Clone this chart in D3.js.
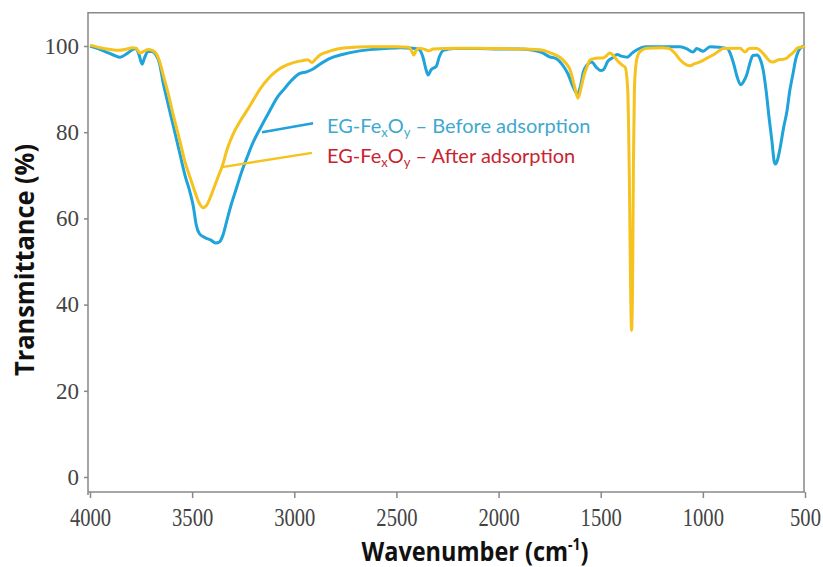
<!DOCTYPE html>
<html>
  <script src="https://cdn.jsdelivr.net/npm/d3@7"></script>
  <style>
    body{ margin: 0; background: #fff; }
    .tick text{ font-family: "Liberation Serif", serif; fill: #444; }
    .tick line{ stroke: #888; stroke-width: 1.5; }
    .frame{ stroke: #888; stroke-width: 1.5; fill: none; }
    .title{ font-family: "Open Sans", sans-serif; font-weight: bold; font-size: 27px; fill: #111; }
    .legend{ font-family: Lato, sans-serif; font-size: 20px; }
  </style>
  <body>
    <script>

// FTIR spectra, [wavenumber, transmittance %]
var before = [
  [4000,100],[3960,99.4],[3920,98.6],[3880,97.8],[3853,97.4],[3820,98.2],[3790,99.2],[3775,99.4],
  [3760,98],[3745,95.8],[3732,97.4],[3715,98.8],[3695,98.7],[3675,97.8],[3660,96],[3640,91],
  [3620,87],[3600,83],[3580,79],[3560,75],[3535,70],[3510,66],[3495,63],[3480,58.5],[3465,56.5],
  [3440,55.6],[3410,55],[3385,54.3],[3365,54.6],[3350,56],[3330,59.5],[3310,63],[3290,66],
  [3260,70.5],[3230,74.3],[3200,77.8],[3160,81.5],[3120,85],[3080,88.3],[3050,90],[3010,92.2],
  [2975,93.6],[2940,94],[2910,94.6],[2880,95.6],[2850,96.5],[2810,97.4],[2760,98.1],[2700,98.7],
  [2640,99.1],[2560,99.4],[2480,99.6],[2420,99.5],[2390,99.2],[2370,97.4],[2355,94.5],[2345,93.3],
  [2330,94.5],[2305,95.3],[2290,97.5],[2270,99],[2220,99.4],[2100,99.4],[2000,99.3],[1900,99.3],
  [1830,99],[1790,98.5],[1750,97.5],[1715,97],[1690,95.8],[1660,93.5],[1635,90.5],[1615,89],
  [1600,90.5],[1585,94],[1568,95.5],[1545,96.3],[1520,95],[1500,94.3],[1485,94.6],[1465,96.5],
  [1440,97.3],[1420,98],[1395,97.6],[1371,97.4],[1345,98.4],[1320,99.2],[1280,99.8],[1200,99.8],
  [1112,99.8],[1080,99.4],[1048,98.6],[1030,99.4],[999,98.8],[965,99.8],[920,99.7],[880,99.4],
  [867,98.4],[850,96],[830,92.5],[815,91],[800,91.8],[784,93.5],[770,96],[755,97.8],[735,97.9],
  [720,97],[705,94.5],[690,89.5],[675,83],[662,78],[650,73],[645,72.6],[635,73.5],[622,76.3],
  [605,81],[588,85],[575,89.5],[559,93.5],[545,97],[534,98.6],[515,99.8],[500,100]
]

var after = [
  [4000,100.2],[3950,99.6],[3900,99.2],[3860,99],[3820,99.3],[3790,99.6],[3775,99.5],[3755,98.4],
  [3735,98.8],[3715,99.2],[3695,99],[3675,98.2],[3660,96.5],[3640,93],[3620,89.5],[3600,85.5],
  [3584,82.4],[3560,78],[3535,73.1],[3510,69.5],[3486,66.1],[3465,63.5],[3447,62.5],[3430,63],
  [3410,65],[3390,67.5],[3370,70],[3350,72.5],[3329,76],[3300,79.5],[3266,82.5],[3232,85],
  [3200,87.5],[3168,90],[3130,92.3],[3100,93.7],[3070,94.8],[3036,95.6],[3000,96.2],[2960,96.6],
  [2935,96.8],[2913,96.2],[2895,97],[2874,97.9],[2840,98.6],[2800,99.2],[2740,99.6],[2640,99.8],
  [2500,99.8],[2440,99.7],[2425,98.8],[2415,97.9],[2405,98.8],[2390,99.5],[2360,99.2],[2340,98.9],
  [2320,99.3],[2200,99.5],[2100,99.5],[2000,99.4],[1900,99.3],[1820,99.2],[1783,99],[1740,98.3],
  [1700,97.4],[1670,96],[1650,94.5],[1630,91],[1611,87.9],[1595,90.5],[1580,93.5],[1568,95],
  [1553,96.7],[1538,97],[1510,97.2],[1489,97.2],[1470,97.8],[1455,98.4],[1440,97.9],[1420,96.7],
  [1396,95.6],[1380,95],[1368,90],[1360,70],[1354,45],[1349,34],[1344,45],[1340,72],[1335,90],
  [1328,95.5],[1318,97.9],[1300,99],[1274,99.5],[1200,99.6],[1170,99.5],[1140,98.5],[1112,96.8],
  [1080,95.6],[1063,95.4],[1040,95.9],[1014,96.3],[980,97.2],[950,97.9],[920,98.9],[901,99.4],
  [818,99.5],[794,98.6],[775,99.4],[760,99.5],[735,99.4],[700,98],[675,96.6],[657,96.3],
  [630,96.8],[608,96.9],[588,97.2],[575,97.8],[559,98.4],[534,99.6],[510,99.8],[500,100]
]

var xTicks = [4000, 3500, 3000, 2500, 2000, 1500, 1000, 500]
var yTicks = [0, 20, 40, 60, 80, 100]

var seriesNames = ['EG-Fe|x|O|y| \u2013 Before adsorption', 'EG-Fe|x|O|y| \u2013 After adsorption']
var lineColors = ['#1ea3db', '#f5c21e']
var textColors = ['#3ea8cf', '#c8242f']
// leader line ends and label anchor, in data units
var leaders = [[[3158, 80.0], [2908, 82.1]], [[3354, 71.9], [2913, 75.2]]]
var labelAt = [[2840, 79.8], [2840, 72.9]]

var W = 823, H = 567

var svg = d3.select('body').append('svg').attr('width', W).attr('height', H)

var x = d3.scaleLinear().domain([4000, 500]).range([90, 805])
  , y = d3.scaleLinear().domain([0, 100]).range([477, 46])
  , yMin = -3.5, yMax = 107.7

// frame
svg.append('path').attr('class', 'frame')
  .attr('d', d3.line()([[x(4000) - 2, y(yMin) + 3], [x(4000) - 2, y(yMax)], [x(500) - 1, y(yMax)], [x(500) - 1, y(yMin)]]))
svg.append('line').attr('class', 'frame')
  .attr('x1', x(4000) - 2).attr('x2', x(500)).attr('y1', y(yMin)).attr('y2', y(yMin))

// serif tick labels in the reference are tall and narrow
svg.append('g').attr('transform', 'translate(0,' + y(yMin) + ')')
  .call(d3.axisBottom(x).tickValues(xTicks).tickSize(6).tickFormat(d3.format('d')))
  .call(function(g){
    g.select('.domain').remove()
    g.selectAll('.tick text').attr('font-size', 26).attr('y', 34).attr('dy', 0)
      .attr('lengthAdjust', 'spacingAndGlyphs')
      .attr('textLength', function(d){ return String(d).length * 10.3 })
  })

svg.append('g').attr('transform', 'translate(' + (x(4000) - 2) + ',0)')
  .call(d3.axisLeft(y).tickValues(yTicks).tickSize(4).tickPadding(5))
  .call(function(g){
    g.select('.domain').remove()
    g.selectAll('.tick text').attr('font-size', 23)
      .attr('lengthAdjust', 'spacingAndGlyphs')
      .attr('textLength', function(d){ return String(d).length * 11.5 })
  })

var line = d3.line()
  .x(function(d){ return x(d[0]) })
  .y(function(d){ return y(d[1]) })
  .curve(d3.curveMonotoneX)

;[before, after].forEach(function(s, i){
  svg.append('path').datum(s)
    .attr('fill', 'none').attr('stroke', lineColors[i]).attr('stroke-width', 3)
    .attr('stroke-linejoin', 'round').attr('d', line)
})

// legend with leader lines
leaders.forEach(function(l, i){
  svg.append('line')
    .attr('x1', x(l[0][0])).attr('y1', y(l[0][1]))
    .attr('x2', x(l[1][0])).attr('y2', y(l[1][1]))
    .attr('stroke', lineColors[i]).attr('stroke-width', 2.5)
})

seriesNames.forEach(function(name, i){
  var parts = name.split('|')
  var t = svg.append('text').attr('class', 'legend')
    .attr('x', x(labelAt[i][0])).attr('y', y(labelAt[i][1]))
    .attr('fill', textColors[i])
  parts.forEach(function(p, j){
    var sub = j % 2 === 1
    t.append('tspan').text(p)
      .attr('font-size', sub ? 13 : null)
      .attr('dy', sub ? 4 : (j > 0 ? -4 : 0))
  })
})

// axis titles
svg.append('text').attr('class', 'title')
  .attr('transform', 'translate(34,260) rotate(-90)')
  .attr('text-anchor', 'middle')
  .attr('textLength', 232).attr('lengthAdjust', 'spacingAndGlyphs')
  .text('Transmittance (%)')

var xt = svg.append('text').attr('class', 'title')
  .attr('transform', 'translate(475,561) scale(0.87,1)').attr('text-anchor', 'middle')
xt.append('tspan').text('Wavenumber (cm')
xt.append('tspan').text('-1').attr('font-size', 16).attr('dy', -11)
xt.append('tspan').text(')').attr('dy', 11)

    </script>
  </body>
</html>
